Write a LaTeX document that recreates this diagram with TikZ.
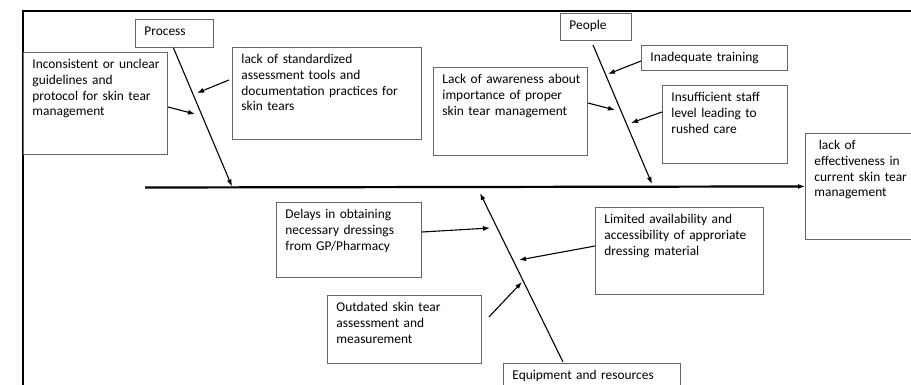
\documentclass[tikz,border=0pt]{standalone}
\usepackage{fontspec}
\setmainfont{Carlito}
\usetikzlibrary{arrows.meta}

\tikzset{
  cause/.style={draw=black!60, line width=0.9pt, anchor=north west, align=left,
    inner xsep=9pt, inner ysep=5pt, text height=11.5pt,
    font=\fontsize{13.4}{15.6}\selectfont},
  bone/.style={->, line width=1.1pt},
}

\begin{document}
\begin{tikzpicture}[x=1pt, y=-1pt, >={Latex[length=7pt,width=5pt]}]
		\useasboundingbox (0,0) rectangle (911,385);
		% outer frame
		\draw[line width=1.6pt] (23,392) -- (23,11) -- (920,11);
		
		% category boxes
		\node[cause, text width=60, text depth=6.5] (proc) at (135,19) {Process};
		\node[cause, text width=53, text depth=5.5] (people) at (560,13) {People};
		\node[cause, text width=159, text depth=8.5] (equip) at (503,363) {Equipment and resources};
		\node[cause, text width=94, text depth=84.5] (effect) at (805,133) {\ lack of\\effectiveness in\\\mbox{current skin tear}\\management};
		
		% causes
		\node[cause, text width=126, text depth=80.5] (incons) at (23,52) {\mbox{Inconsistent or unclear}\\guidelines and\\protocol for skin tear\\management};
		\node[cause, text width=171, text depth=70.5] (lackstd) at (232,47) {lack of standardized\\assessment tools and\\documentation practices for\\skin tears};
		\node[cause, text width=136, text depth=66.5] (aware) at (433,67) {\mbox{Lack of awareness about}\\importance of proper\\skin tear management};
		\node[cause, text width=128, text depth=3.5] (inadeq) at (641,45) {Inadequate training};
		\node[cause, text width=107, text depth=56.5] (insuff) at (662,85) {Insufficient staff\\level leading to\\rushed care};
		\node[cause, text width=127, text depth=53.5] (delays) at (276,202) {Delays in obtaining\\necessary dressings\\from GP/Pharmacy};
		\node[cause, text width=150, text depth=65.5] (limited) at (595,207) {Limited availability and\\\mbox{accessibility of approriate}\\dressing material};
		\node[cause, text width=136, text depth=46.5] (outdated) at (327,295) {Outdated skin tear\\assessment and\\measurement};
		
		% spines
		\coordinate (tail) at (145,187.5);
		\coordinate (procend) at (232,186.5);
		\coordinate (peopletop) at (593,45);
		\coordinate (peopleend) at (652,184);
		\coordinate (equipstart) at (563,362);
		\coordinate (equipend) at (480,193);
		\draw[->, line width=2.2pt] (tail) -- (effect.west);
		\draw[bone] (proc.south) ++(-1,0) -- (procend);
		\draw[bone] (peopletop) -- (peopleend);
		\draw[bone] (equipstart) -- (equipend);
		
		% cause arrows
		\coordinate (p1) at (197,93);
		\coordinate (p2) at (195,114);
		\coordinate (q1) at (608,74);
		\coordinate (q2) at (615,110);
		\coordinate (q3) at (631,123);
		\coordinate (r1) at (490,228);
		\coordinate (r2) at (519,260);
		\coordinate (r3) at (522,282);
		\draw[bone] ([shift={(-3,33)}]lackstd.north west) -- (p1);
		\draw[bone] ([shift={(0,55)}]incons.north east) -- (p2);
		\draw[bone] ([shift={(0,16)}]inadeq.north west) -- (q1);
		\draw[bone] ([shift={(0,36)}]aware.north east) -- (q2);
		\draw[bone] ([shift={(0,27)}]insuff.north west) -- (q3);
		\draw[bone] ([shift={(0,30)}]delays.north east) -- (r1);
		\draw[bone] ([shift={(0,39)}]limited.north west) -- (r2);
		\draw[bone] ([shift={(7,22)}]outdated.north east) -- (r3);
\end{tikzpicture}
\end{document}
